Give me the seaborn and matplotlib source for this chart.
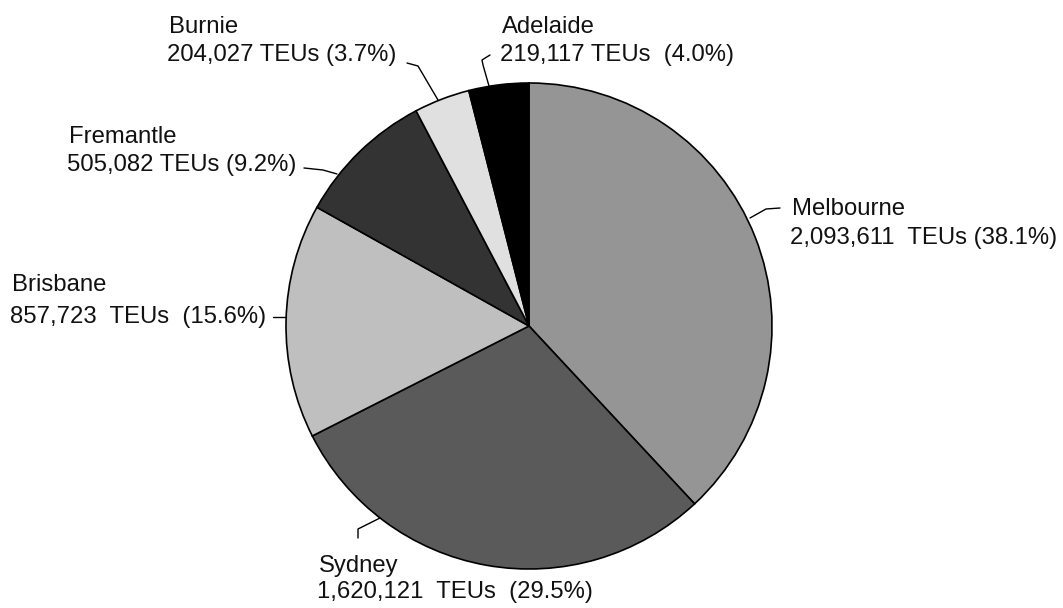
import matplotlib
matplotlib.use("Agg")
import matplotlib.pyplot as plt
import seaborn as sns

# Container throughput by port
ports = ["Melbourne", "Sydney", "Brisbane", "Fremantle", "Burnie", "Adelaide"]
teus = [2093611, 1620121, 857723, 505082, 204027, 219117]
shares = [38.1, 29.5, 15.6, 9.2, 3.7, 4.0]
colors = ["#959595", "#5a5a5a", "#bfbfbf", "#333333", "#e0e0e0", "#000000"]

# spacing used in each label: (after number, after "TEUs")
gaps = [(2, 1), (2, 2), (2, 2), (1, 1), (1, 1), (1, 2)]

# label placement in pixel coordinates: (x, baseline of name, baseline of value line)
label_pos = [(792, 215, 244), (319, 572, 598), (12, 291, 323),
             (69, 143, 171), (169, 33, 61), (502, 33, 61)]
# leader lines from label to wedge edge
leaders = [
    [(780, 208), (766, 209), (750, 218)],
    [(358, 538), (358, 529), (380, 518)],
    [(273, 317), (286, 317)],
    [(304, 168), (323, 170), (337, 174)],
    [(407, 63), (418, 66), (438, 100)],
    [(490, 55), (482, 60), (483, 65), (489, 86)],
]

sns.set_theme(style="white")
plt.rcParams["font.family"] = ["Liberation Sans", "DejaVu Sans"]

W, H = 1063, 608
FS = 17.2
fig = plt.figure(figsize=(W / 100, H / 100), dpi=100)
ax = fig.add_axes([0, 0, 1, 1])

# y axis runs downward, so start at -90 and go counter-clockwise in data space
ax.pie(teus, colors=colors, startangle=-90, counterclock=True,
       center=(529, 326), radius=243, frame=True,
       wedgeprops=dict(edgecolor="black", linewidth=1.2))
ax.set_xlim(0, W)
ax.set_ylim(H, 0)
ax.set_axis_off()

for name, v, s, (g1, g2), (x, b1, b2), pts in zip(ports, teus, shares, gaps,
                                                    label_pos, leaders):
    ax.text(x, b1, name, ha="left", va="baseline", fontsize=FS, color="#111111")
    line = f"{v:,}" + " " * g1 + "TEUs" + " " * g2 + f"({s:.1f}%)"
    ax.text(x - 2, b2, line, ha="left", va="baseline", fontsize=FS,
            color="#111111")
    xs, ys = zip(*pts)
    ax.plot(xs, ys, color="black", linewidth=1.0)

fig.savefig("out.png", dpi=100, facecolor="white")
